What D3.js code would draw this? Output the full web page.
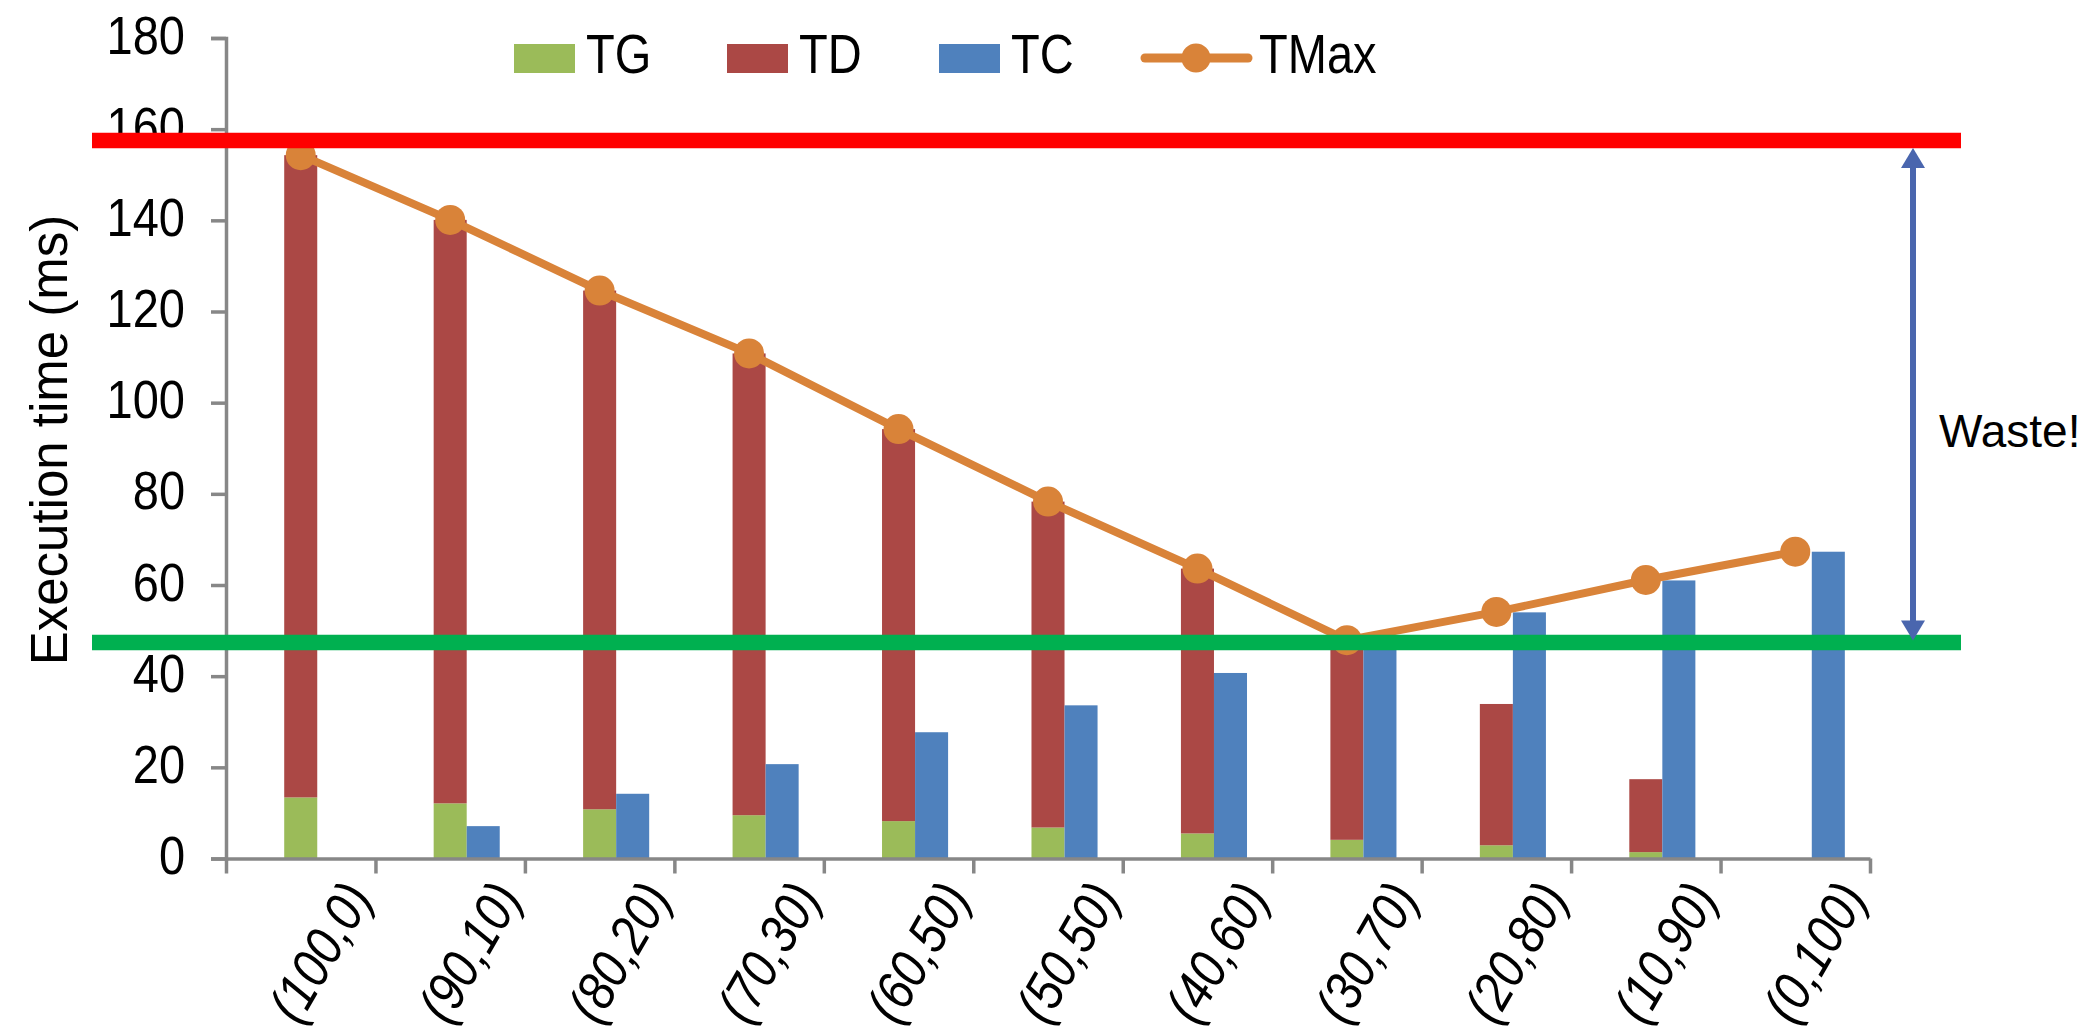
<!DOCTYPE html>
<html>
<head>
<meta charset="utf-8">
<script src="https://cdn.jsdelivr.net/npm/d3@7"></script>
<style>
  html, body { margin: 0; padding: 0; background: #fff; }
  svg { display: block; }
  text { font-family: "Liberation Sans", Arial, sans-serif; fill: #000; }
</style>
</head>
<body>
<svg id="chart" width="2082" height="1034"></svg>
<script>
// Workload split (GPU share, CPU share) and measured times in ms
const categories = ["(100,0)", "(90,10)", "(80,20)", "(70,30)", "(60,50)", "(50,50)",
                    "(40,60)", "(30,70)", "(20,80)", "(10,90)", "(0,100)"];
const tgValues   = [13.4, 12.1, 10.8, 9.5, 8.2, 6.8, 5.5, 4.1, 2.9, 1.4, 0];
const tdValues   = [140.9, 128.0, 113.8, 101.3, 86.0, 71.5, 58.1, 43.8, 31.0, 16.0, 0];
const tcValues   = [0, 7.1, 14.2, 20.7, 27.7, 33.6, 40.7, 47.5, 54.0, 61.0, 67.3];
const tmaxValues = [154.3, 140.1, 124.6, 110.8, 94.2, 78.3, 63.6, 47.9, 54.1, 61.1, 67.3];
const yTicks     = [0, 20, 40, 60, 80, 100, 120, 140, 160, 180];
const seriesNames = ["TG", "TD", "TC", "TMax"];
// Worst-case and best-case levels marked across the plot
const upperLevel = 157.5;
const lowerLevel = 47.4;
const annotationText = "Waste!";
const yTitle = "Execution time (ms)";

const colors = { TG: "#9BBB59", TD: "#AB4845", TC: "#4F81BD", TMax: "#D98339" };

const svg = d3.select("#chart");
svg.append("rect").attr("width", 2082).attr("height", 1034).attr("fill", "#fff");

const plotLeft = 226, plotRight = 1870;
const y = d3.scaleLinear().domain([0, 180]).range([858.5, 38]);
const x0 = d3.scaleBand().domain(categories).range([plotLeft, plotRight]).paddingInner(0).paddingOuter(0);
// three slots per category: an empty one, the TG+TD stack, and TC
const x1 = d3.scaleBand().domain(["empty", "stack", "tc"]).range([0, x0.bandwidth()]).paddingInner(0).paddingOuter(0.762);

const rows = categories.map((c, i) => ({ cat: c, tg: tgValues[i], td: tdValues[i], tc: tcValues[i], tmax: tmaxValues[i] }));

// bars
const g = svg.append("g");
g.selectAll("rect.tg").data(rows).join("rect")
  .attr("x", d => x0(d.cat) + x1("stack")).attr("width", x1.bandwidth())
  .attr("y", d => y(d.tg)).attr("height", d => y(0) - y(d.tg))
  .attr("fill", colors.TG);
g.selectAll("rect.td").data(rows).join("rect")
  .attr("x", d => x0(d.cat) + x1("stack")).attr("width", x1.bandwidth())
  .attr("y", d => y(d.tg + d.td)).attr("height", d => y(d.tg) - y(d.tg + d.td))
  .attr("fill", colors.TD);
g.selectAll("rect.tc").data(rows).join("rect")
  .attr("x", d => x0(d.cat) + x1("tc")).attr("width", x1.bandwidth())
  .attr("y", d => y(d.tc)).attr("height", d => y(0) - y(d.tc))
  .attr("fill", colors.TC);

// axes
const axisColor = "#878787";
const yAxis = svg.append("g").attr("transform", `translate(${plotLeft},0)`)
  .call(d3.axisLeft(y).tickValues(yTicks).tickSize(15).tickSizeOuter(15).tickPadding(26));
yAxis.select(".domain").attr("stroke", axisColor).attr("stroke-width", 3.5);
yAxis.selectAll(".tick line").attr("stroke", axisColor).attr("stroke-width", 3.5);
yAxis.selectAll(".tick text")
  .style("font-family", '"Liberation Sans", Arial, sans-serif')
  .attr("font-size", 54).attr("fill", "#000")
  .attr("x", -41 / 0.87).attr("dy", "0.28em")
  .attr("transform", "scale(0.87,1)");

const xEdge = d3.scaleLinear().domain([0, categories.length]).range([plotLeft, plotRight]);
const xAxis = svg.append("g").attr("transform", `translate(0,${y(0)})`)
  .call(d3.axisBottom(xEdge).tickValues(d3.range(categories.length + 1)).tickSize(15).tickSizeOuter(0).tickFormat(""));
xAxis.select(".domain").attr("stroke", axisColor).attr("stroke-width", 3.5);
xAxis.selectAll(".tick line").attr("stroke", axisColor).attr("stroke-width", 3.5);

// category labels, rotated italics ending near the right edge of each band
svg.append("g").selectAll("text").data(categories).join("text")
  .attr("transform", d => `translate(${x0(d) + x0.bandwidth() - 2},897) rotate(-60) scale(0.87,1)`)
  .attr("text-anchor", "end").attr("font-size", 54).attr("font-style", "italic")
  .text(d => d);

// y title
svg.append("text")
  .attr("transform", `translate(67,440) rotate(-90)`)
  .attr("text-anchor", "middle").attr("font-size", 51)
  .text(yTitle);

// TMax line and markers
const cx = d => x0(d.cat) + x1("stack") + x1.bandwidth() / 2;
svg.append("path").datum(rows)
  .attr("fill", "none").attr("stroke", colors.TMax).attr("stroke-width", 8).attr("stroke-linejoin", "round")
  .attr("d", d3.line().x(cx).y(d => y(d.tmax)));
svg.append("g").selectAll("circle").data(rows).join("circle")
  .attr("cx", cx).attr("cy", d => y(d.tmax)).attr("r", 15).attr("fill", colors.TMax);

// level lines
const lineLeft = 92, lineRight = 1961;
[[upperLevel, "#FF0000"], [lowerLevel, "#00B050"]].forEach(([v, c]) => {
  svg.append("line").attr("x1", lineLeft).attr("x2", lineRight)
    .attr("y1", y(v)).attr("y2", y(v)).attr("stroke", c).attr("stroke-width", 15.5);
});

// double-headed arrow between the two levels
const ax = 1913, arrowColor = "#4A66AE";
const yTop = y(upperLevel) + 7.5, yBot = y(lowerLevel) - 2;
svg.append("line").attr("x1", ax).attr("x2", ax).attr("y1", yTop + 15).attr("y2", yBot - 15)
  .attr("stroke", arrowColor).attr("stroke-width", 6);
svg.append("path").attr("fill", arrowColor)
  .attr("d", `M${ax},${yTop} L${ax - 12},${yTop + 20} L${ax + 12},${yTop + 20} Z`);
svg.append("path").attr("fill", arrowColor)
  .attr("d", `M${ax},${yBot} L${ax - 12},${yBot - 20} L${ax + 12},${yBot - 20} Z`);
svg.append("text").attr("x", 1939).attr("y", 447).attr("font-size", 46).text(annotationText);

// legend
const legendX = [514, 727, 939, 1145];
const legend = svg.append("g");
seriesNames.forEach((name, i) => {
  const lx = legendX[i];
  if (name === "TMax") {
    legend.append("line").attr("x1", lx).attr("x2", lx + 103).attr("y1", 58).attr("y2", 58)
      .attr("stroke", colors.TMax).attr("stroke-width", 9).attr("stroke-linecap", "round");
    legend.append("circle").attr("cx", lx + 51).attr("cy", 58).attr("r", 14.5).attr("fill", colors.TMax);
  } else {
    legend.append("rect").attr("x", lx).attr("y", 44).attr("width", 61).attr("height", 29).attr("fill", colors[name]);
  }
  const tx = name === "TMax" ? lx + 114 : lx + 72;
  legend.append("text").attr("transform", `translate(${tx},73) scale(0.84,1)`)
    .attr("font-size", 56).text(name);
});
</script>
</body>
</html>
